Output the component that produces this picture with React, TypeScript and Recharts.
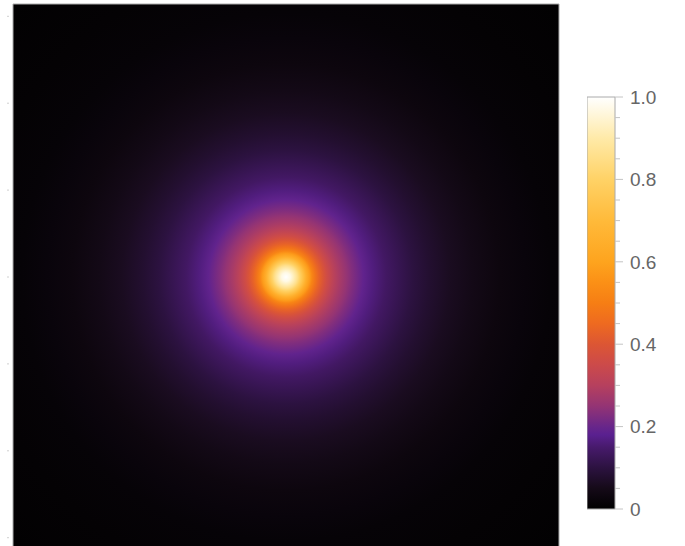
import { ScatterChart, Scatter, XAxis, YAxis, ReferenceArea, BarChart, Bar } from 'recharts'

// colour scale (value -> colour)
const CMAP_POS = [0, 0.05, 0.1, 0.15, 0.18, 0.2, 0.25, 0.3, 0.35, 0.4, 0.45, 0.5, 0.55, 0.6, 0.7, 0.8, 0.9, 1.0]
const CMAP_COLORS = ['#000000', '#150a18', '#2c1240', '#471a6c', '#5a2090', '#68268a', '#943474', '#b6405e', '#cc4a4a', '#dc5634', '#ee6a20', '#f67e14', '#fb9016', '#fea41e', '#ffba3a', '#ffd266', '#ffeaa8', '#ffffff']

// radial profile of the density (distance from centre in plot units -> value)
const PROFILE_R = [0, 0.05, 0.09, 0.13, 0.16, 0.2, 0.23, 0.27, 0.3, 0.34, 0.38, 0.43, 0.47, 0.55, 0.62, 0.7, 0.76, 0.89, 1.0, 1.15, 1.3, 1.46, 1.65, 1.89, 2.15, 2.46, 2.75, 3.04, 3.6, 4.44]
const PROFILE_V = [1.0, 0.97, 0.92, 0.86, 0.8, 0.72, 0.65, 0.58, 0.52, 0.47, 0.43, 0.39, 0.36, 0.31, 0.28, 0.25, 0.23, 0.19, 0.165, 0.14, 0.12, 0.1, 0.08, 0.06, 0.045, 0.03, 0.022, 0.015, 0.009, 0.005]

const Y_TICKS = [-3, -2, -1, 0, 1, 2, 3]
const BAR_TICKS = [0, 0.05, 0.1, 0.15, 0.2, 0.25, 0.3, 0.35, 0.4, 0.45, 0.5, 0.55, 0.6, 0.65, 0.7, 0.75, 0.8, 0.85, 0.9, 0.95, 1.0]
const BAR_LABELS = ['0', '0.2', '0.4', '0.6', '0.8', '1.0']

const PI = Math.PI
const R_MAX = PI * Math.SQRT2

const hex = (c: string) => [1, 3, 5].map(i => parseInt(c.slice(i, i + 2), 16))

function colorAt(v: number) {
  if (v <= 0) return CMAP_COLORS[0]
  if (v >= 1) return CMAP_COLORS[CMAP_COLORS.length - 1]
  let i = 0
  while (CMAP_POS[i + 1] < v) i++
  const t = (v - CMAP_POS[i]) / (CMAP_POS[i + 1] - CMAP_POS[i])
  const a = hex(CMAP_COLORS[i])
  const b = hex(CMAP_COLORS[i + 1])
  const m = a.map((x, k) => Math.round(x + (b[k] - x) * t))
  return `rgb(${m[0]},${m[1]},${m[2]})`
}

const LeftTick = (props: any) => {
  const { x, y } = props
  return <line x1={x - 2} x2={x} y1={y} y2={y} stroke="#d0d0d0" strokeWidth={1} />
}

const BarTick = (props: any) => {
  const { x, y, payload } = props
  const v = Math.round(payload.value * 100) / 100
  const major = Math.abs(v * 5 - Math.round(v * 5)) < 1e-6
  const label = major ? BAR_LABELS[Math.round(v * 5)] : null
  return (
    <g>
      <line x1={x} x2={x + (major ? 8 : 5)} y1={y} y2={y} stroke="#c4c4c4" strokeWidth={1} />
      {label && (
        <text x={x + 15} y={y} dy="0.36em" textAnchor="start" fontSize={19} fill="#666" fontFamily="'Liberation Sans', Arial, sans-serif">
          {label}
        </text>
      )}
    </g>
  )
}

export default function App() {
  return (
    <div style={{ position: 'absolute', left: 0, top: 0, width: 685, height: 546, overflow: 'hidden', background: '#fff' }}>
      <div style={{ position: 'absolute', left: 0, top: 0 }}>
        <ScatterChart width={565} height={560} margin={{ top: 4, right: 6, bottom: 10, left: 0 }}>
          <defs>
            <radialGradient id="glow" cx="0.5" cy="0.5" r={0.5 * Math.SQRT2} gradientUnits="objectBoundingBox">
              {PROFILE_R.map((r, i) => (
                <stop key={i} offset={r / R_MAX} stopColor={colorAt(PROFILE_V[i])} />
              ))}
            </radialGradient>
          </defs>
          <XAxis type="number" dataKey="x" domain={[-PI, PI]} hide allowDataOverflow />
          <YAxis
            type="number"
            dataKey="y"
            domain={[-PI, PI]}
            ticks={Y_TICKS}
            width={13}
            tickSize={0}
            tickMargin={4}
            axisLine={false}
            tickLine={false}
            tick={<LeftTick />}
            allowDataOverflow
          />
          <ReferenceArea x1={-PI} x2={PI} y1={-PI} y2={PI} fill="url(#glow)" fillOpacity={1} stroke="#aaaaaa" strokeWidth={1} />
          <Scatter data={[{ x: 0, y: 0 }]} isAnimationActive={false} shape={() => <g />} />
        </ScatterChart>
      </div>
      <div style={{ position: 'absolute', left: 587, top: 87 }}>
        <BarChart width={98} height={432} data={[{ name: 'bar', v: 1 }]} margin={{ top: 10, right: 0, bottom: 10, left: 0 }} barCategoryGap={0}>
          <defs>
            <linearGradient id="cbar" x1="0" y1="1" x2="0" y2="0">
              {CMAP_POS.map((p, i) => (
                <stop key={i} offset={p} stopColor={CMAP_COLORS[i]} />
              ))}
            </linearGradient>
          </defs>
          <XAxis dataKey="name" hide />
          <YAxis
            orientation="right"
            domain={[0, 1]}
            ticks={BAR_TICKS}
            width={70}
            tickSize={0}
            tickMargin={0}
            axisLine={false}
            tickLine={false}
            tick={<BarTick />}
            interval={0}
          />
          <Bar dataKey="v" fill="url(#cbar)" stroke="#aaaaaa" strokeWidth={1} isAnimationActive={false} />
        </BarChart>
      </div>
    </div>
  )
}
